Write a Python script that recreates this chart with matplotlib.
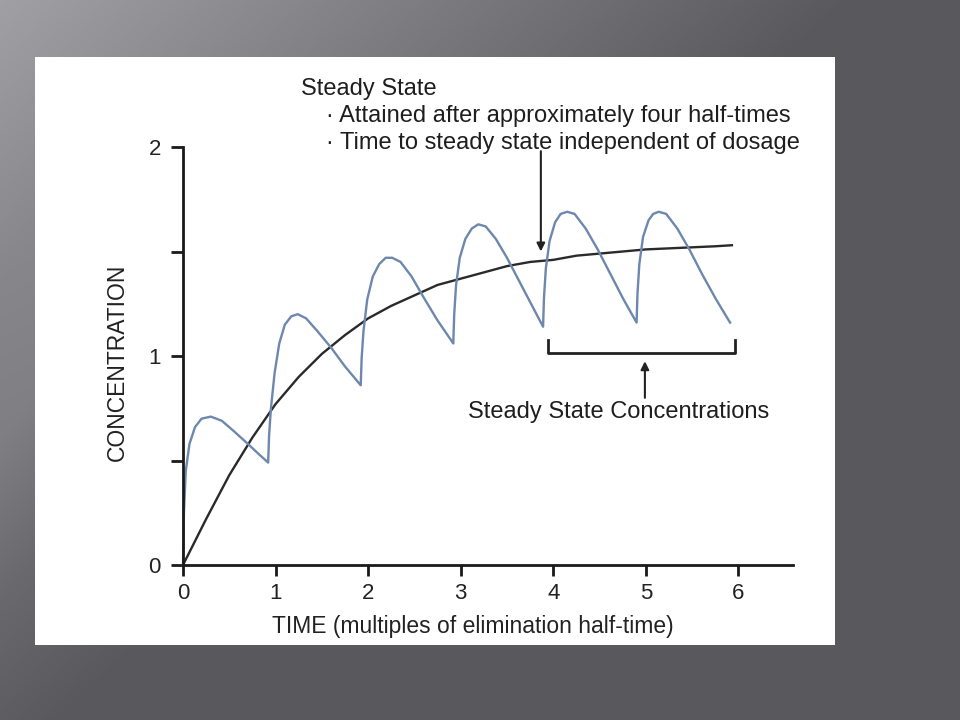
import numpy as np
import matplotlib.pyplot as plt
from matplotlib.patches import Rectangle

plt.rcParams['font.family'] = ['Liberation Sans', 'DejaVu Sans']

# smooth (continuous infusion) curve
t_smooth = [0, 0.25, 0.5, 0.75, 1.0, 1.25, 1.5, 1.75, 2.0, 2.25, 2.5, 2.75, 3.0,
            3.25, 3.5, 3.75, 4.0, 4.25, 4.5, 4.75, 5.0, 5.25, 5.5, 5.75, 5.93]
c_smooth = [0, 0.22, 0.43, 0.61, 0.77, 0.90, 1.01, 1.10, 1.18, 1.24, 1.29, 1.34, 1.37,
            1.40, 1.43, 1.45, 1.46, 1.48, 1.49, 1.50, 1.51, 1.515, 1.52, 1.525, 1.53]

# intermittent dosing curve
t_dose = [0, 0.01, 0.03, 0.07, 0.13, 0.2, 0.3, 0.42, 0.55, 0.7, 0.82, 0.92,
          0.93, 0.95, 0.99, 1.04, 1.1, 1.17, 1.24, 1.33, 1.45, 1.6, 1.75, 1.92,
          1.93, 1.95, 1.99, 2.05, 2.12, 2.19, 2.26, 2.35, 2.47, 2.6, 2.75, 2.92,
          2.93, 2.95, 2.99, 3.05, 3.12, 3.19, 3.27, 3.38, 3.5, 3.63, 3.76, 3.89,
          3.9, 3.92, 3.96, 4.02, 4.08, 4.15, 4.23, 4.35, 4.48, 4.62, 4.76, 4.9,
          4.91, 4.93, 4.97, 5.03, 5.08, 5.14, 5.22, 5.34, 5.47, 5.61, 5.76, 5.91]
c_dose = [0, 0.25, 0.45, 0.58, 0.66, 0.70, 0.71, 0.69, 0.64, 0.58, 0.53, 0.49,
          0.62, 0.75, 0.92, 1.06, 1.15, 1.19, 1.20, 1.18, 1.12, 1.04, 0.95, 0.86,
          0.99, 1.12, 1.27, 1.38, 1.44, 1.47, 1.47, 1.45, 1.38, 1.28, 1.17, 1.06,
          1.20, 1.34, 1.47, 1.56, 1.61, 1.63, 1.62, 1.56, 1.47, 1.36, 1.25, 1.14,
          1.28, 1.42, 1.55, 1.64, 1.68, 1.69, 1.68, 1.61, 1.51, 1.39, 1.27, 1.16,
          1.30, 1.44, 1.57, 1.65, 1.68, 1.69, 1.68, 1.61, 1.51, 1.39, 1.27, 1.16]

x_ticks = [0, 1, 2, 3, 4, 5, 6]
y_ticks = [0, 0.5, 1, 1.5, 2]
y_labels = ['0', '', '1', '', '2']

fig = plt.figure(figsize=(9.6, 7.2), dpi=100)

# slide background
bg = fig.add_axes([0, 0, 1, 1])
yy, xx = np.mgrid[0:720, 0:960]
light = np.clip(1 - (xx + 1.1 * yy) / 850.0, 0, 1)
band = np.clip(1 - np.abs((xx + 0.75 * yy) - 330) / 120.0, 0, 1) * (yy > 250) * 0.35
v = 0.35 + 0.28 * light + 0.08 * band
img = np.dstack([v, v - 0.004, v + 0.012])
bg.imshow(np.clip(img, 0, 1), aspect='auto', extent=[0, 1, 0, 1])
bg.axis('off')

fig.patches.append(Rectangle((35 / 960, 1 - 645 / 720), 800 / 960, 588 / 720,
                             transform=fig.transFigure, facecolor='white',
                             edgecolor='none', zorder=1))

ax = fig.add_axes([183 / 960, 1 - 565 / 720, 610 / 960, 418 / 720])
ax.set_zorder(2)
ax.patch.set_visible(False)

ax.plot(t_smooth, c_smooth, color='#2a2a2a', lw=1.7, clip_on=False)
ax.plot(t_dose, c_dose, color='#6d87ad', lw=1.7, clip_on=False)

ax.set_xlim(0, 6.59)
ax.set_ylim(0, 2)
for s in ['top', 'right']:
    ax.spines[s].set_visible(False)
for s in ['left', 'bottom']:
    ax.spines[s].set_linewidth(2)
    ax.spines[s].set_color('#1a1a1a')

ax.set_xticks(x_ticks)
ax.set_yticks(y_ticks)
ax.set_yticklabels(y_labels)
ax.tick_params(axis='y', length=9, width=2, pad=7, labelsize=16, color='#1a1a1a',
               labelcolor='#222222')
ax.tick_params(axis='x', length=8, width=2, pad=5, labelsize=16, color='#1a1a1a',
               labelcolor='#222222')

ax.set_xlabel('TIME (multiples of elimination half-time)', fontsize=16.5,
              color='#222222', va='center')
ax.xaxis.set_label_coords((473 - 183) / 610, -(627 - 565) / 418)
ax.set_ylabel('CONCENTRATION', fontsize=16.5, color='#222222', va='center')
ax.yaxis.set_label_coords(-(183 - 117) / 610, (565 - 362) / 418)

txt_kw = dict(fontsize=17, color='#1e1e1e', va='center', ha='left', clip_on=False)
ax.text(1.274, 2.278, 'Steady State', **txt_kw)
ax.text(1.544, 2.148, '· Attained after approximately four half-times', **txt_kw)
ax.text(1.544, 2.019, '· Time to steady state independent of dosage', **txt_kw)
ax.text(3.078, 0.732, 'Steady State Concentrations', **txt_kw)

ax.annotate('', xy=(3.866, 1.50), xytext=(3.866, 1.98),
            arrowprops=dict(arrowstyle='-|>', color='#222222', lw=1.5,
                            mutation_scale=12, shrinkA=0, shrinkB=0),
            annotation_clip=False)
ax.annotate('', xy=(4.99, 0.975), xytext=(4.99, 0.80),
            arrowprops=dict(arrowstyle='-|>', color='#222222', lw=1.5,
                            mutation_scale=12, shrinkA=0, shrinkB=0),
            annotation_clip=False)

# bracket under steady-state peaks
ax.plot([3.942, 3.942, 5.961, 5.961], [1.077, 1.014, 1.014, 1.077],
        color='#222222', lw=2)

fig.savefig('out.png', dpi=100)
